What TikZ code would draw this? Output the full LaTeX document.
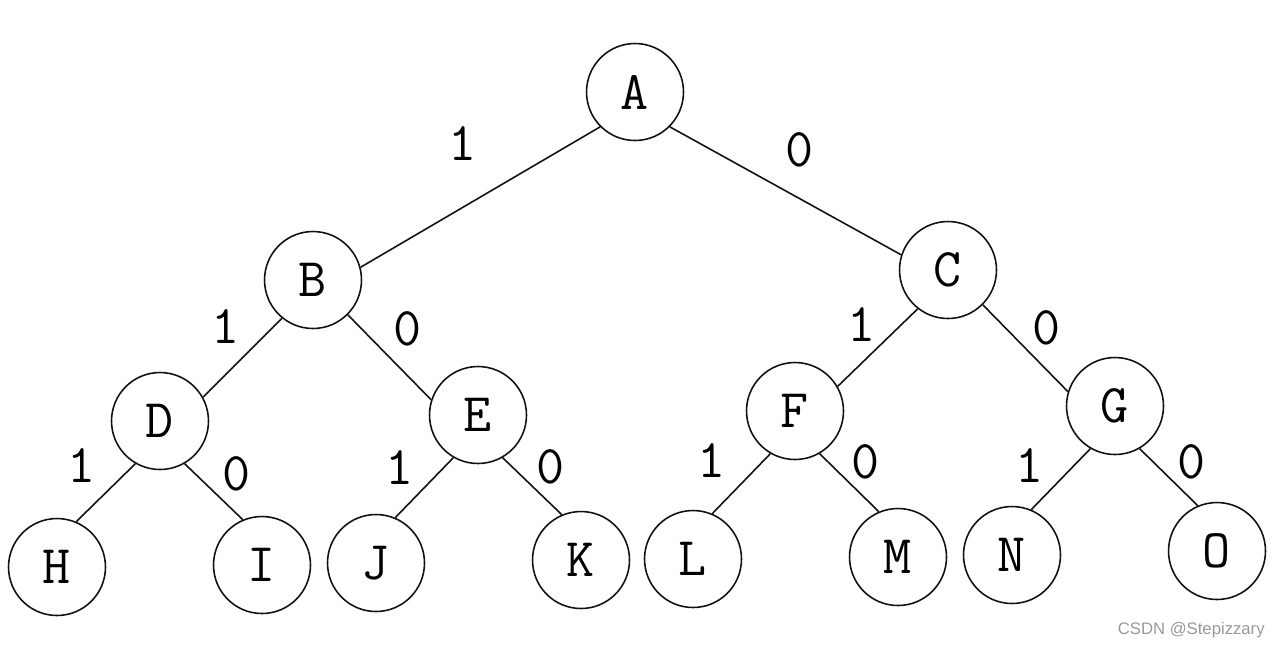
\documentclass[tikz,border=0pt]{standalone}
\usepackage{fontspec}
\newfontfamily\marksans{Liberation Sans}
\usepackage{tikz}
\usetikzlibrary{positioning}
\definecolor{treeInk}{HTML}{111111}
\definecolor{markGrey}{HTML}{999999}

\begin{document}
\begin{tikzpicture}[x=0.02cm,y=-0.02cm,
    vert/.style={circle,draw=treeInk,line width=0.9pt,minimum size=1.94cm,inner sep=0pt,
                 font=\ttfamily\fontsize{31}{33}\selectfont},
    bit/.style={font=\ttfamily\fontsize{31}{33}\selectfont,inner sep=0pt},
    branch/.style={draw=treeInk,line width=0.9pt}]
\useasboundingbox (0,0) rectangle (1280,647);
% vertices
\node[vert] (A) at (635,92)  {A};
\node[vert] (B) at (313,280) {B};
\node[vert] (C) at (948,270) {C};
\node[vert] (D) at (160,421) {D};
\node[vert] (E) at (478,415) {E};
\node[vert] (F) at (795,411) {F};
\node[vert] (G) at (1115,406) {G};
\node[vert] (H) at (57,567)  {H};
\node[vert] (I) at (262,565) {I};
\node[vert] (J) at (376,563) {J};
\node[vert] (K) at (581,560) {K};
\node[vert] (L) at (693,559) {L};
\node[vert] (M) at (898,557) {M};
\node[vert] (N) at (1012,555) {N};
\node[vert] (O) at (1217,551) {O};
% branches (parent angle / child angle)
\foreach \u/\a/\v/\b in {A/225/B/15, A/315/C/162,
                         B/231/D/29, B/315/E/162, C/232/F/30, C/315/G/163,
                         D/240/H/67, D/300/I/113, E/240/J/67, E/300/K/113,
                         F/240/L/67, F/300/M/113, G/240/N/67, G/300/O/113}
  \draw[branch] (\u.\a) -- (\v.\b);
% branch bits
\node[bit] (bAB) at (463,144) {1};
\node[bit] (bAC) at (800,150) {0};
\node[bit] (bBD) at (226,327) {1};
\node[bit] (bBE) at (408,329) {0};
\node[bit] (bCF) at (862,325) {1};
\node[bit] (bCG) at (1047,328) {0};
\node[bit] (bDH) at (82,466)  {1};
\node[bit] (bDI) at (237,474) {0};
\node[bit] (bEJ) at (400,468) {1};
\node[bit] (bEK) at (551,467) {0};
\node[bit] (bFL) at (712,461) {1};
\node[bit] (bFM) at (866,462) {0};
\node[bit] (bGN) at (1030,466) {1};
\node[bit] (bGO) at (1192,462) {0};
\node[font=\marksans\fontsize{9.5}{11}\selectfont,text=markGrey,anchor=east,inner sep=0pt]
  (mark) at (1265,630) {CSDN @Stepizzary};
\end{tikzpicture}
\end{document}
